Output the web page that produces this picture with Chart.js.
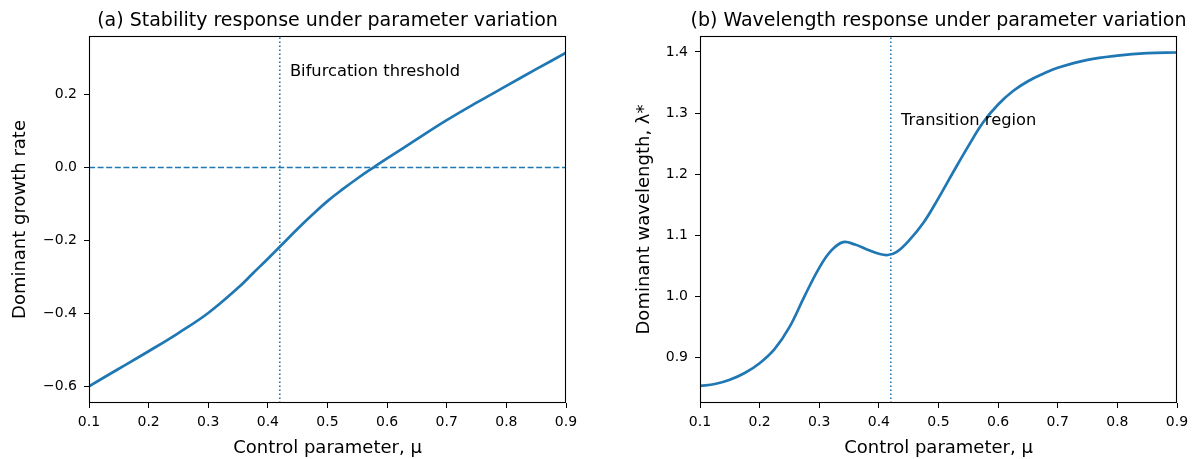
<!DOCTYPE html>
<html>
<head>
<meta charset="utf-8">
<script src="https://cdn.jsdelivr.net/npm/chart.js@4.4.0/dist/chart.umd.min.js"></script>
<style>
  body { margin: 0; background: #fff; }
  #wrap { position: relative; width: 1195px; height: 459px; }
  canvas { position: absolute; top: 0; }
</style>
</head>
<body>
<div id="wrap">
  <canvas id="chartA" width="600" height="459" style="left:0"></canvas>
  <canvas id="chartB" width="595" height="459" style="left:600px"></canvas>
</div>
<script>
// (a) growth rate vs control parameter
const muA = [0.10, 0.15, 0.20, 0.25, 0.30, 0.35, 0.375, 0.40, 0.425, 0.45, 0.475, 0.50, 0.525, 0.55, 0.575, 0.60, 0.65, 0.70, 0.75, 0.80, 0.85, 0.90];
const growthRate = [-0.600, -0.552, -0.504, -0.454, -0.399, -0.330, -0.290, -0.250, -0.209, -0.168, -0.129, -0.092, -0.060, -0.030, -0.002, 0.025, 0.078, 0.130, 0.178, 0.224, 0.270, 0.315];

// (b) dominant wavelength vs control parameter
const muB = [0.10, 0.125, 0.15, 0.175, 0.20, 0.225, 0.25, 0.275, 0.30, 0.32, 0.34, 0.36, 0.38, 0.40, 0.415, 0.43, 0.45, 0.475, 0.50, 0.525, 0.55, 0.575, 0.60, 0.625, 0.65, 0.675, 0.70, 0.75, 0.80, 0.85, 0.90];
const wavelength = [0.854, 0.857, 0.864, 0.875, 0.891, 0.914, 0.950, 1.000, 1.047, 1.075, 1.089, 1.085, 1.077, 1.070, 1.068, 1.073, 1.091, 1.121, 1.161, 1.204, 1.246, 1.285, 1.314, 1.336, 1.352, 1.364, 1.374, 1.387, 1.394, 1.398, 1.399];

const xTicks = [0.1, 0.2, 0.3, 0.4, 0.5, 0.6, 0.7, 0.8, 0.9];
const yTicksA = [-0.6, -0.4, -0.2, 0.0, 0.2];
const yTicksB = [0.9, 1.0, 1.1, 1.2, 1.3, 1.4];

const threshold = 0.42;
const limitsA = [-0.646, 0.361];
const limitsB = [0.826, 1.426];

const blue = '#1f77b4';
const font = '"DejaVu Sans", sans-serif';

function fmt(v) {
    return (v < 0 ? '\u2212' : '') + Math.abs(v).toFixed(1);
}

// frame, title and text note, drawn with the chart's own scales
const framePlugin = {
    id: 'frame',
    afterDraw(chart, args, opts) {
        const { ctx, chartArea: a, scales } = chart;
        ctx.save();
        ctx.strokeStyle = '#000';
        ctx.lineWidth = 1.1;
        ctx.strokeRect(a.left + 0.5, a.top + 0.5, a.right - a.left - 1, a.bottom - a.top - 1);
        ctx.fillStyle = '#000';
        ctx.font = '19px ' + font;
        ctx.textAlign = 'center';
        ctx.textBaseline = 'alphabetic';
        ctx.fillText(opts.title, (a.left + a.right) / 2, 26);
        ctx.font = '16.3px ' + font;
        ctx.textAlign = 'left';
        ctx.fillText(opts.note, scales.x.getPixelForValue(opts.noteX), scales.y.getPixelForValue(opts.noteY));
        ctx.restore();
    }
};

function makeChart(id, cfg) {
    const points = cfg.xs.map((x, i) => ({ x: x, y: cfg.ys[i] }));
    const datasets = [
        {
            data: points,
            borderColor: blue,
            borderWidth: 2.7,
            pointRadius: 0,
            tension: 0.4,
            order: 0
        },
        {
            data: [{ x: threshold, y: cfg.limits[0] }, { x: threshold, y: cfg.limits[1] }],
            borderColor: blue,
            borderWidth: 1.6,
            borderDash: [1.6, 2.4],
            pointRadius: 0,
            order: 1
        }
    ];
    if (cfg.zeroLine) {
        datasets.push({
            data: [{ x: xTicks[0], y: 0 }, { x: xTicks[xTicks.length - 1], y: 0 }],
            borderColor: blue,
            borderWidth: 1.6,
            borderDash: [6, 2.6],
            pointRadius: 0,
            order: 1
        });
    }

    new Chart(document.getElementById(id), {
        type: 'line',
        data: { datasets: datasets },
        plugins: [framePlugin],
        options: {
            responsive: false,
            animation: false,
            layout: { padding: { top: 36, right: cfg.padRight, left: 0, bottom: 0 } },
            plugins: {
                legend: { display: false },
                tooltip: { enabled: false },
                frame: { title: cfg.title, note: cfg.note, noteX: cfg.noteXY[0], noteY: cfg.noteXY[1] }
            },
            scales: {
                x: {
                    type: 'linear',
                    min: 0.1,
                    max: 0.9,
                    afterBuildTicks: s => { s.ticks = xTicks.map(v => ({ value: v })); },
                    afterFit: s => { s.height = 56; },
                    grid: { drawOnChartArea: false, drawTicks: true, tickLength: 5, color: '#000', lineWidth: 1 },
                    border: { display: false },
                    ticks: { color: '#000', font: { family: font, size: 14 }, padding: 6, maxRotation: 0, autoSkip: false, callback: v => v.toFixed(1) },
                    title: { display: true, text: 'Control parameter, \u03bc', color: '#000', font: { family: font, size: 18 }, padding: { top: 0, bottom: 0 } }
                },
                y: {
                    type: 'linear',
                    min: cfg.limits[0],
                    max: cfg.limits[1],
                    afterBuildTicks: s => { s.ticks = cfg.yTicks.map(v => ({ value: v })); },
                    afterFit: s => { s.width = cfg.yWidth; },
                    grid: { drawOnChartArea: false, drawTicks: true, tickLength: 5, color: '#000', lineWidth: 1 },
                    border: { display: false },
                    ticks: { color: '#000', font: { family: font, size: 14 }, padding: 7, autoSkip: false, callback: v => fmt(v) },
                    title: { display: true, text: cfg.yTitle, color: '#000', font: { family: font, size: 18 }, padding: { top: cfg.yTitlePad, bottom: 0 } }
                }
            }
        }
    });
}

makeChart('chartA', {
    xs: muA, ys: growthRate, limits: limitsA, yTicks: yTicksA, zeroLine: true,
    title: '(a) Stability response under parameter variation',
    yTitle: 'Dominant growth rate',
    note: 'Bifurcation threshold', noteXY: [0.437, 0.25],
    yWidth: 89, padRight: 34, yTitlePad: 10
});

makeChart('chartB', {
    xs: muB, ys: wavelength, limits: limitsB, yTicks: yTicksB, zeroLine: false,
    title: '(b) Wavelength response under parameter variation',
    yTitle: 'Dominant wavelength, \u03bb*',
    note: 'Transition region', noteXY: [0.437, 1.28],
    yWidth: 100, padRight: 18, yTitlePad: 34
});
</script>
</body>
</html>
